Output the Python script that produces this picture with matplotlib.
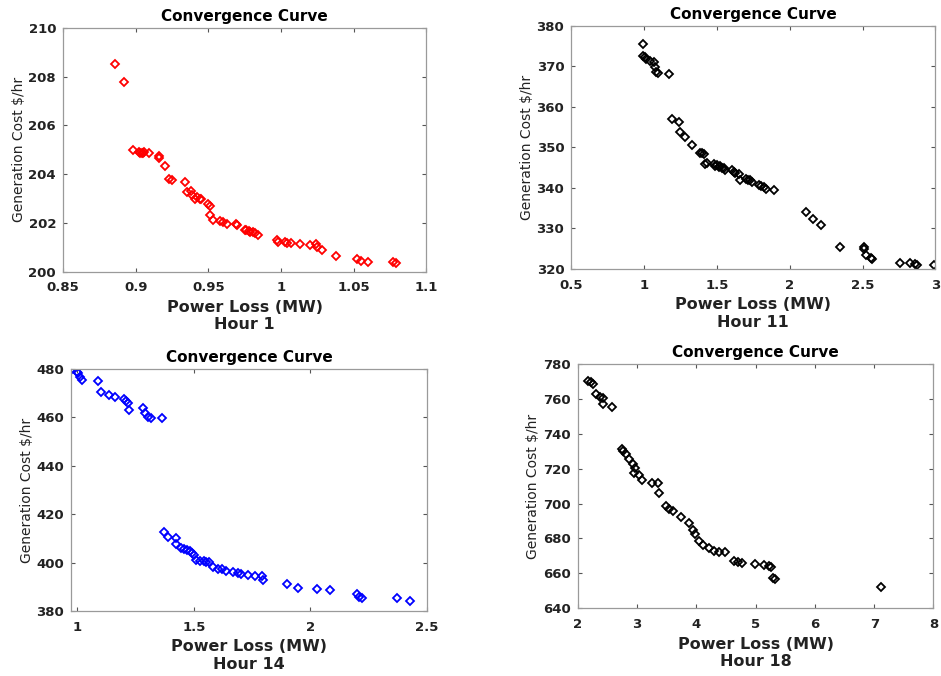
import matplotlib
matplotlib.use("Agg")
import matplotlib.pyplot as plt

# Hour 1 (red)
loss_h1 = [0.886, 0.892, 0.898, 0.902, 0.903, 0.904, 0.905, 0.906, 0.909, 0.916, 0.916,
           0.920, 0.923, 0.925, 0.934, 0.935, 0.938, 0.939, 0.941, 0.942, 0.944, 0.945,
           0.950, 0.951, 0.951, 0.953, 0.958, 0.960, 0.963, 0.969, 0.970, 0.975, 0.976,
           0.978, 0.979, 0.981, 0.982, 0.984, 0.997, 0.998, 1.003, 1.004, 1.007, 1.013,
           1.020, 1.024, 1.025, 1.028, 1.038, 1.052, 1.055, 1.060, 1.077, 1.079]
cost_h1 = [208.50, 207.79, 204.97, 204.92, 204.88, 204.85, 204.88, 204.90, 204.86, 204.75,
           204.68, 204.32, 203.81, 203.77, 203.66, 203.26, 203.30, 203.16, 203.00, 203.07,
           203.00, 202.98, 202.78, 202.71, 202.32, 202.14, 202.10, 202.03, 201.96, 201.97,
           201.91, 201.73, 201.70, 201.69, 201.63, 201.62, 201.59, 201.49, 201.29, 201.21,
           201.21, 201.19, 201.17, 201.12, 201.09, 201.12, 201.02, 200.91, 200.64, 200.54,
           200.44, 200.41, 200.40, 200.37]

# Hour 11 (black)
loss_h11 = [0.992, 0.996, 1.005, 1.017, 1.044, 1.067, 1.072, 1.083, 1.099, 1.170, 1.190,
            1.241, 1.250, 1.284, 1.332, 1.387, 1.400, 1.410, 1.422, 1.430, 1.479, 1.490,
            1.502, 1.515, 1.525, 1.535, 1.547, 1.559, 1.604, 1.615, 1.627, 1.650, 1.662,
            1.703, 1.715, 1.726, 1.742, 1.788, 1.800, 1.822, 1.840, 1.890, 2.115, 2.160,
            2.215, 2.348, 2.508, 2.513, 2.526, 2.560, 2.565, 2.755, 2.824, 2.860, 2.874, 2.988]
cost_h11 = [375.5, 372.6, 372.3, 371.8, 371.2, 371.0, 369.8, 368.7, 368.3, 368.2, 357.0,
            356.2, 353.7, 352.5, 350.5, 348.6, 348.5, 348.3, 346.0, 346.2, 345.8, 345.5,
            345.6, 345.2, 345.5, 345.0, 344.9, 344.5, 344.3, 344.0, 343.8, 343.5, 342.0,
            342.2, 342.0, 341.9, 341.4, 340.7, 340.5, 340.2, 339.8, 339.4, 334.1, 332.3,
            330.8, 325.4, 325.4, 324.9, 323.5, 322.8, 322.5, 321.6, 321.5, 321.2, 320.9, 320.9]

# Hour 14 (blue)
loss_h14 = [0.973, 0.997, 1.004, 1.011, 1.019, 1.087, 1.101, 1.137, 1.161, 1.200, 1.211,
            1.218, 1.222, 1.281, 1.289, 1.303, 1.318, 1.363, 1.372, 1.389, 1.422, 1.425,
            1.446, 1.460, 1.470, 1.482, 1.492, 1.499, 1.510, 1.525, 1.542, 1.553, 1.567,
            1.582, 1.603, 1.621, 1.638, 1.667, 1.688, 1.702, 1.731, 1.764, 1.792, 1.798,
            1.902, 1.949, 2.027, 2.083, 2.201, 2.211, 2.220, 2.372, 2.429]
cost_h14 = [479.7, 479.0, 478.3, 476.9, 475.5, 475.0, 470.4, 469.3, 468.4, 467.7, 467.0,
            465.9, 463.1, 463.8, 461.7, 460.4, 459.7, 459.7, 412.7, 410.7, 410.4, 407.6,
            406.2, 405.5, 405.1, 404.7, 404.2, 403.1, 401.0, 400.8, 400.8, 400.4, 400.4,
            398.3, 397.2, 397.6, 396.6, 396.2, 395.9, 395.5, 394.8, 394.4, 394.4, 392.7,
            391.3, 389.7, 389.3, 388.6, 386.9, 385.8, 385.4, 385.4, 384.1]

# Hour 18 (black)
loss_h18 = [2.169, 2.225, 2.264, 2.309, 2.376, 2.421, 2.433, 2.573, 2.747, 2.770, 2.815,
            2.871, 2.927, 2.966, 2.944, 3.028, 3.084, 3.253, 3.348, 3.365, 3.489, 3.534,
            3.601, 3.742, 3.882, 3.938, 3.983, 4.039, 4.107, 4.208, 4.303, 4.388, 4.489,
            4.640, 4.697, 4.770, 4.994, 5.146, 5.219, 5.258, 5.287, 5.332, 7.112]
cost_h18 = [770.1, 769.7, 768.6, 762.5, 761.0, 760.2, 757.2, 755.2, 731.3, 729.8, 728.4,
            725.2, 722.7, 720.2, 717.5, 716.6, 713.7, 712.0, 712.0, 706.3, 698.7, 696.8,
            695.8, 692.4, 688.6, 684.8, 682.5, 678.7, 676.4, 674.5, 673.0, 672.0, 672.4,
            667.2, 666.3, 665.7, 665.3, 664.8, 664.0, 663.8, 657.3, 656.9, 652.4]

hours = ["Hour 1", "Hour 11", "Hour 14", "Hour 18"]
xticks = [[0.85, 0.9, 0.95, 1, 1.05, 1.1], [0.5, 1, 1.5, 2, 2.5, 3],
          [1, 1.5, 2, 2.5], [2, 3, 4, 5, 6, 7, 8]]
yticks = [[200, 202, 204, 206, 208, 210], [320, 330, 340, 350, 360, 370, 380],
          [380, 400, 420, 440, 460, 480], [640, 660, 680, 700, 720, 740, 760, 780]]
xlims = [(0.85, 1.1), (0.5, 3), (0.973, 2.5), (2, 8)]

series = [(loss_h1, cost_h1, "#ff0000"), (loss_h11, cost_h11, "#000000"),
          (loss_h14, cost_h14, "#0000ff"), (loss_h18, cost_h18, "#000000")]

# axes rectangles in figure fractions
boxes = [[0.067, 0.598, 0.386, 0.361], [0.607, 0.602, 0.387, 0.360],
         [0.0755, 0.096, 0.378, 0.358], [0.614, 0.100, 0.378, 0.362]]

fig = plt.figure(figsize=(9.41, 6.76), dpi=100)
fig.patch.set_facecolor("white")

for i in range(4):
    ax = fig.add_axes(boxes[i])
    x, y, col = series[i]
    ax.plot(x, y, linestyle="none", marker="D", markersize=3.6,
            markerfacecolor="none", markeredgecolor=col, markeredgewidth=1.3)
    ax.set_xlim(xlims[i])
    ax.set_ylim(yticks[i][0], yticks[i][-1])
    ax.set_xticks(xticks[i])
    ax.set_yticks(yticks[i])
    ax.set_xticklabels([f"{t:g}" for t in xticks[i]])
    ax.set_yticklabels([f"{t:g}" for t in yticks[i]])
    ax.tick_params(direction="in", top=True, right=True, length=3, width=0.8,
                   color="#555555", labelsize=9.5, labelcolor="#222222")
    ax.tick_params(axis="x", pad=7)
    ax.tick_params(axis="y", pad=5)
    for lbl in ax.get_xticklabels() + ax.get_yticklabels():
        lbl.set_fontweight("bold")
    for sp in ax.spines.values():
        sp.set_color("#9a9a9a")
        sp.set_linewidth(0.9)
    ax.set_title("Convergence Curve", fontsize=11, fontweight="bold", pad=5)
    ax.set_xlabel("Power Loss (MW)\n" + hours[i], fontsize=11.5, fontweight="bold",
                  color="#222222", labelpad=4)
    ax.set_ylabel("Generation Cost $/hr", fontsize=10, color="#222222", labelpad=2)

fig.savefig("out.png", dpi=100)
